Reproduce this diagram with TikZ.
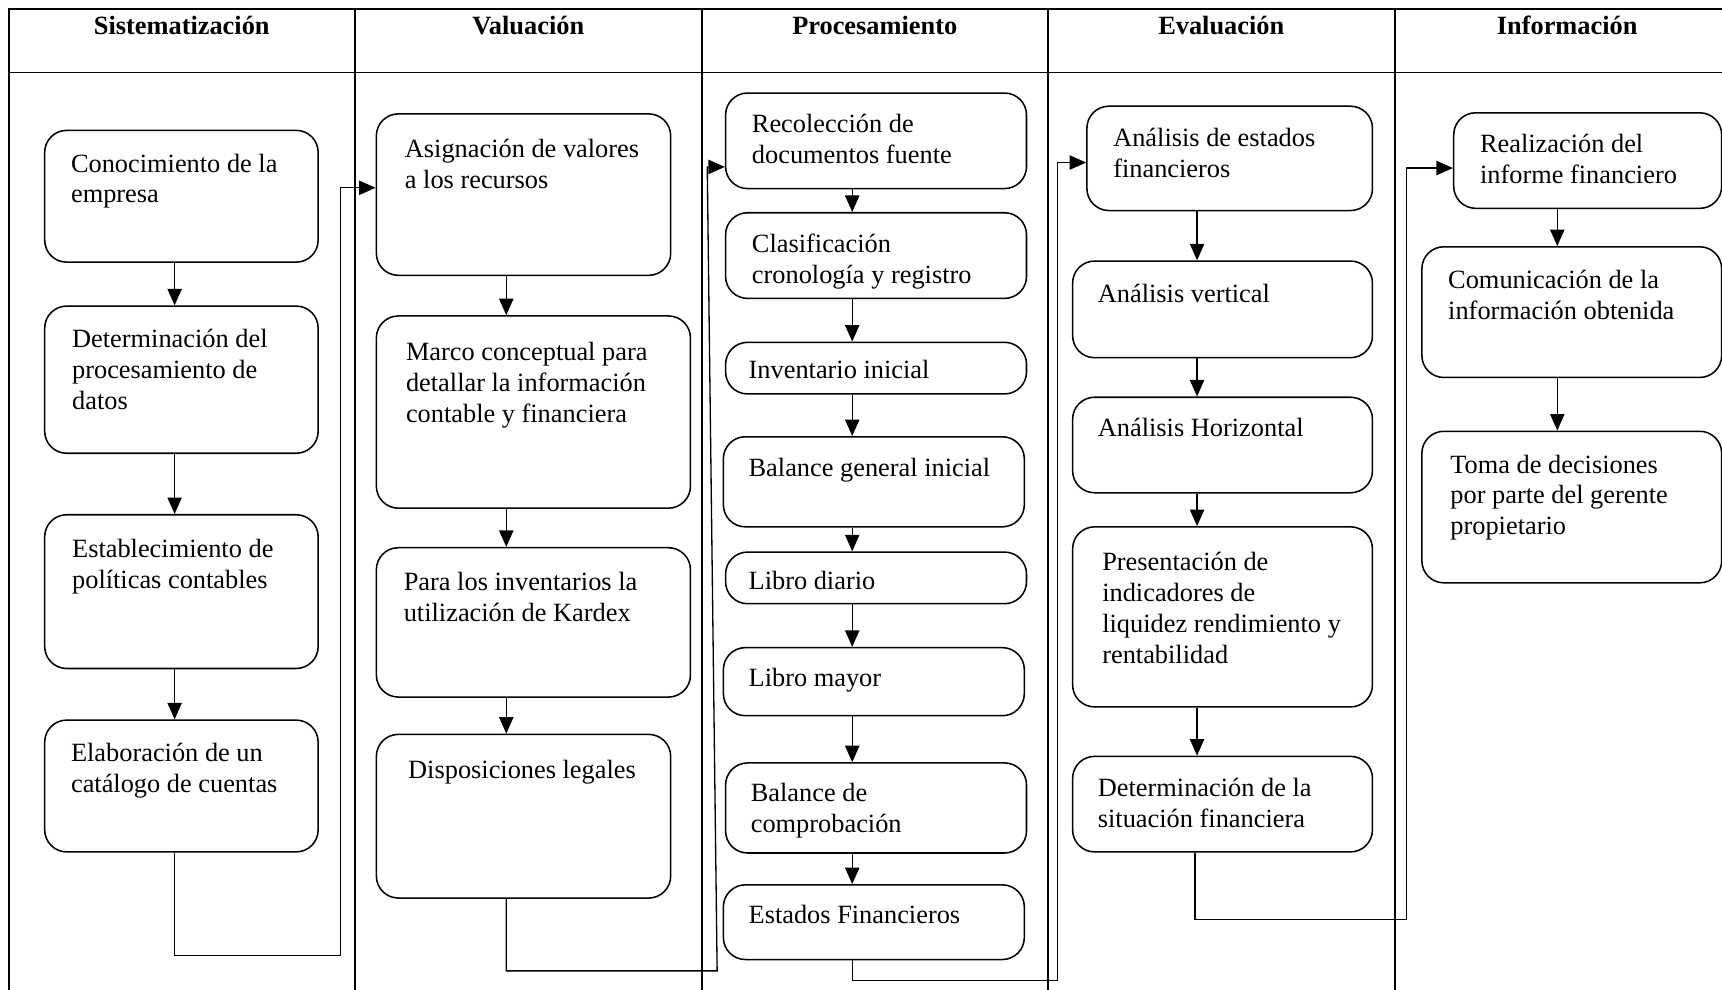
\documentclass[tikz,border=0pt]{standalone}
\usepackage{fontspec}
\setmainfont{Liberation Serif}
\usetikzlibrary{arrows.meta, positioning}

\newlength{\px}
\setlength{\px}{0.5pt}
% box body: width, height, left pad, first line offset, lines
\newcommand{\stepbody}[5]{%
  \parbox[c][#2\px][t]{#1\px}{\vspace*{\dimexpr #4\px+7\px-9.8pt\relax}%
    \hspace*{#3\px}\begin{tabular}[t]{@{}l@{}}#5\end{tabular}}}

\tikzset{
    >={Triangle[length=7.5pt,width=6.5pt]}, % filled arrow heads
    stepbox/.style={
            draw,
            rounded corners=10pt, % radius of the rounded corners
            line width=0.7pt,
            inner sep=0pt,
            anchor=north west,
            font=\fontsize{12}{14}\selectfont
        },
    lanehead/.style={anchor=base, font=\fontsize{12}{14}\selectfont\bfseries},
    lane/.style={line width=0.8pt},
    flow/.style={->, line width=0.6pt}
}

\begin{document}
\begin{tikzpicture}[x=0.5pt, y=-0.5pt]
                \useasboundingbox (0,0) rectangle (1568,901);

                % table
                \draw[lane] (8,901) -- (8,8) -- (1568,8);
                \draw[lane] (8,66) -- (1568,66);
                \draw[lane] (323,8) -- (323,901);
                \draw[lane] (639,8) -- (639,901);
                \draw[lane] (954,8) -- (954,901);
                \draw[lane] (1270,8) -- (1270,901);

                \node[lanehead] (h1) at (165.5,31) {Sistematización};
                \node[lanehead] (h2) at (481,31) {Valuación};
                \node[lanehead] (h3) at (796.5,31) {Procesamiento};
                \node[lanehead] (h4) at (1112,31) {Evaluación};
                \node[lanehead] (h5) at (1427,31) {Información};

                % arrow columns
                \coordinate (ax1) at (159,0);
                \coordinate (ax2) at (461,0);
                \coordinate (ax3) at (776,0);
                \coordinate (ax4) at (1090,0);
                \coordinate (ax5) at (1418,0);

                % nodes
                \node[stepbox] (c1) at (40,118) {\stepbody{249}{120}{24}{31}{Conocimiento de la\\empresa}};
                \node[stepbox] (c2) at (40,278) {\stepbody{249}{134}{25}{31}{Determinación del\\procesamiento de\\datos}};
                \node[stepbox] (c3) at (40,468) {\stepbody{249}{140}{25}{32}{Establecimiento de\\políticas contables}};
                \node[stepbox] (c4) at (40,655) {\stepbody{249}{120}{24}{31}{Elaboración de un\\catálogo de cuentas}};

                \node[stepbox] (v1) at (342,103) {\stepbody{268}{147}{26}{33}{Asignación de valores\\a los recursos}};
                \node[stepbox] (v2) at (342,287) {\stepbody{286}{175}{27}{34}{Marco conceptual para\\detallar la información\\contable y financiera}};
                \node[stepbox] (v3) at (342,498) {\stepbody{286}{136}{25}{32}{Para los inventarios la\\utilización de Kardex}};
                \node[stepbox] (v4) at (342,668) {\stepbody{268}{149}{29}{33}{Disposiciones legales}};

                \node[stepbox] (p1) at (660,84) {\stepbody{274}{87}{24}{29}{Recolección de\\documentos fuente}};
                \node[stepbox] (p2) at (660,193) {\stepbody{274}{78}{24}{29}{Clasificación\\cronología y registro}};
                \node[stepbox] (p3) at (660,311) {\stepbody{274}{47}{21}{26}{Inventario inicial}};
                \node[stepbox] (p4) at (658,397) {\stepbody{274}{82}{23}{29}{Balance general inicial}};
                \node[stepbox] (p5) at (660,502) {\stepbody{274}{47}{21}{27}{Libro diario}};
                \node[stepbox] (p6) at (658,589) {\stepbody{274}{62}{23}{28}{Libro mayor}};
                \node[stepbox] (p7) at (660,694) {\stepbody{274}{82}{23}{28}{Balance de\\comprobación}};
                \node[stepbox] (p8) at (658,805) {\stepbody{274}{68}{23}{28}{Estados Financieros}};

                \node[stepbox] (e1) at (989,96) {\stepbody{260}{95}{24}{30}{Análisis de estados\\financieros}};
                \node[stepbox] (e2) at (976,237) {\stepbody{273}{88}{23}{31}{Análisis vertical}};
                \node[stepbox] (e3) at (976,361) {\stepbody{273}{87}{23}{29}{Análisis Horizontal}};
                \node[stepbox] (e4) at (976,479) {\stepbody{273}{164}{27}{33}{Presentación de\\indicadores de\\liquidez rendimiento y\\rentabilidad}};
                \node[stepbox] (e5) at (976,688) {\stepbody{273}{87}{23}{30}{Determinación de la\\situación financiera}};

                \node[stepbox] (i1) at (1323,102) {\stepbody{244}{87}{24}{29}{Realización del\\informe financiero}};
                \node[stepbox] (i2) at (1294,224) {\stepbody{273}{119}{24}{31}{Comunicación de la\\información obtenida}};
                \node[stepbox] (i3) at (1294,392) {\stepbody{273}{138}{26}{31}{Toma de decisiones\\por parte del gerente\\propietario}};

                % edges
                \draw[flow] (c1.south -| ax1) -- (c2.north -| ax1);
                \draw[flow] (c2.south -| ax1) -- (c3.north -| ax1);
                \draw[flow] (c3.south -| ax1) -- (c4.north -| ax1);

                \draw[flow] (v1.south -| ax2) -- (v2.north -| ax2);
                \draw[flow] (v2.south -| ax2) -- (v3.north -| ax2);
                \draw[flow] (v3.south -| ax2) -- (v4.north -| ax2);

                \draw[flow] (p1.south -| ax3) -- (p2.north -| ax3);
                \draw[flow] (p2.south -| ax3) -- (p3.north -| ax3);
                \draw[flow] (p3.south -| ax3) -- (p4.north -| ax3);
                \draw[flow] (p4.south -| ax3) -- (p5.north -| ax3);
                \draw[flow] (p5.south -| ax3) -- (p6.north -| ax3);
                \draw[flow] (p6.south -| ax3) -- (p7.north -| ax3);
                \draw[flow] (p7.south -| ax3) -- (p8.north -| ax3);

                \draw[flow] (e1.south -| ax4) -- (e2.north -| ax4);
                \draw[flow] (e2.south -| ax4) -- (e3.north -| ax4);
                \draw[flow] (e3.south -| ax4) -- (e4.north -| ax4);
                \draw[flow] (e4.south -| ax4) -- (e5.north -| ax4);

                \draw[flow] (i1.south -| ax5) -- (i2.north -| ax5);
                \draw[flow] (i2.south -| ax5) -- (i3.north -| ax5);

                % links between columns
                \draw[flow] (c4.south -| ax1) |- (310,870) |- (v1.west |- 0,171);
                \draw[flow] (v4.south -| ax2) |- (653,884) -- (644,152) -- (p1.west |- 0,152);
                \draw[flow] (p8.south -| ax3) |- (963,893) |- (e1.west |- 0,148);
                \draw[flow] (e5.south -| 1088,0) |- (1281,837) |- (i1.west |- 0,153);

        \end{tikzpicture}
\end{document}
